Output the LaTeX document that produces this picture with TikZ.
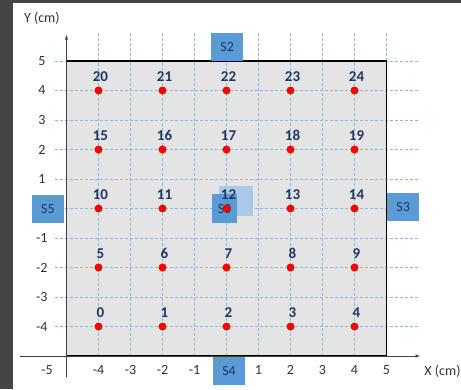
\documentclass[tikz,border=0pt]{standalone}
\usepackage{fontspec}
\setmainfont{Carlito}
\usepackage{tikz}
\usetikzlibrary{math}
\definecolor{gridblue}{HTML}{8DB6E0}
\definecolor{sensorblue}{HTML}{5B9BD5}
\definecolor{sensorlight}{HTML}{A9C9E9}
\definecolor{labelnavy}{HTML}{1F3864}
\definecolor{framegray}{HTML}{454545}
\definecolor{plategray}{HTML}{E4E4E4}

\begin{document}
\begin{tikzpicture}[x=32pt, y=29.5pt,
  gridline/.style={gridblue, line width=0.9pt, dash pattern=on 3pt off 2pt},
  sensor/.style={fill=sensorblue, text=labelnavy, minimum width=32pt, minimum height=28pt, inner sep=0pt, font=\fontsize{14}{16}\selectfont},
  ticklbl/.style={text=black!80, font=\fontsize{14}{16}\selectfont},
  ptlabel/.style={text=labelnavy, font=\fontsize{15}{17}\selectfont\bfseries},
  probe/.style={circle, fill=red, inner sep=0pt, minimum size=8pt}]
\tikzmath{
\L=-7.078; \R=7.328; \T=7.068; \B=-6.119;
}
\useasboundingbox (\L,\B) rectangle (\R,\T);
\fill[framegray] (\L,\B) rectangle (\R,\T);
\fill[white] (-6.672,\B) rectangle (\R,6.966);

% plate and grid
\fill[plategray] (-5,-5) rectangle (5,5);
\foreach \i in {-4,...,5}
  \draw[gridline] (\i,-5) -- (\i,5.98);
\foreach \j in {-4,...,5}
  \draw[gridline] (-5.36,\j) -- (5.98,\j);
\draw[line width=1.8pt] (-5,-5) rectangle (5,5);

% axes
\coordinate (xstart) at (-6.45,-5);
\coordinate (xend) at (6.05,-5);
\coordinate (ystart) at (-5,-5.72);
\coordinate (yend) at (-5,5.88);
\draw[-latex, line width=0.6pt, black!75] (xstart) -- (xend);
\draw[-latex, line width=0.6pt, black!75] (ystart) -- (yend);
\node[ticklbl] (ylab) at (-5.77,6.46) {Y (cm)};
\node[ticklbl] (xlab) at (6.75,-5.51) {X (cm)};

\foreach \y [count=\k] in {5,4,3,2,1,-1,-2,-3,-4}
  \node[ticklbl] (ty\k) at (-5.77,\y) {\y};
\foreach \x [count=\k] in {-4,-3,-2,-1,1,2,3,4,5}
  \node[ticklbl] (tx\k) at (\x,-5.47) {\x};
\node[ticklbl] (tx0) at (-5.61,-5.47) {-5};

% sensors
\node[sensor, fill=sensorlight, minimum width=34pt, minimum height=30pt] (s1) at (0.3,0.25) {};
\node[sensor, minimum width=25pt, minimum height=29pt] (s0) at (-0.06,0) {S0};
\node[sensor] (s2) at (0.02,5.47) {S2};
\node[sensor] (s3) at (5.52,0.05) {S3};
\node[sensor] (s4) at (0.08,-5.5) {S4};
\node[sensor] (s5) at (-5.58,0) {S5};

% measuring points
\foreach \r in {0,...,4}
  \foreach \c in {0,...,4} {
    \pgfmathtruncatemacro{\n}{5*\r+\c}
    \node[probe] (p\n) at (-4+2*\c,-4+2*\r) {};
    \node[ptlabel] (n\n) at ([shift={(2pt,14pt)}]p\n) {\n};
  }
\end{tikzpicture}
\end{document}
